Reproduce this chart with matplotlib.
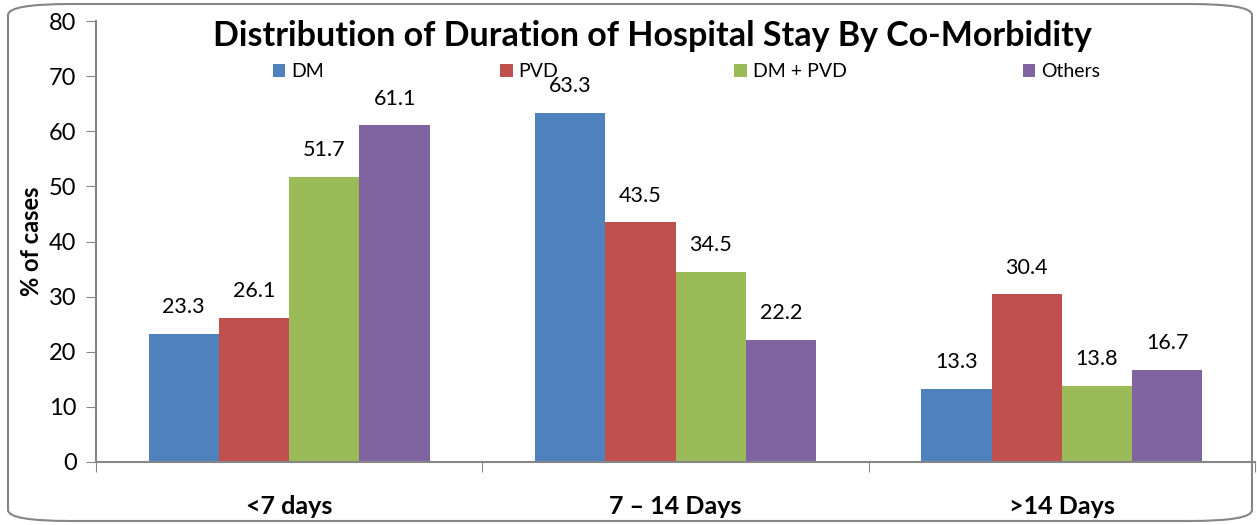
import numpy as np
import matplotlib.pyplot as plt
from matplotlib.patches import FancyBboxPatch

plt.rcParams['font.family'] = ['Lato', 'DejaVu Sans']

categories = ['<7 days', '7 – 14 Days', '>14 Days']
series = ['DM', 'PVD', 'DM + PVD', 'Others']
dm = [23.3, 63.3, 13.3]
pvd = [26.1, 43.5, 30.4]
dm_pvd = [51.7, 34.5, 13.8]
others = [61.1, 22.2, 16.7]
values = [dm, pvd, dm_pvd, others]
colours = ['#4F81BD', '#C0504D', '#9BBB59', '#8064A2']

fig = plt.figure(figsize=(12.57, 5.25), dpi=100)
ax = fig.add_axes([96/1257, 63/525, (1255-96)/1257, (462-21)/525])

x = np.arange(len(categories))
w = 0.182
for i, (name, vals) in enumerate(zip(series, values)):
    pos = x + (i - 1.5) * w
    bars = ax.bar(pos, vals, w, color=colours[i], label=name)
    for b, v in zip(bars, vals):
        ax.annotate(f'{v:.1f}', (b.get_x() + w/2, v), xytext=(0, 12),
                    textcoords='offset points', ha='center', va='bottom',
                    fontsize=15.5)

ax.set_xlim(-0.5, 2.5)
ax.set_ylim(0, 80)
ax.set_yticks(range(0, 81, 10))
ax.set_xticks([-0.5, 0.5, 1.5, 2.5], minor=False)
ax.set_xticklabels([])
ax.set_xticks(x, minor=True)
ax.set_xticklabels(categories, minor=True, fontsize=18, fontweight='bold')
ax.tick_params(axis='x', which='minor', length=0, pad=24)
ax.tick_params(axis='x', which='major', length=7, color='#868686')
ax.tick_params(axis='y', length=7, color='#868686', labelsize=17, pad=7)
for s in ['top', 'right']:
    ax.spines[s].set_visible(False)
for s in ['left', 'bottom']:
    ax.spines[s].set_color('#868686')
    ax.spines[s].set_linewidth(1.5)

ax.set_ylabel('% of cases', fontsize=17, fontweight='bold', labelpad=4)
fig.text(652/1257, 1 - 36/525, 'Distribution of Duration of Hospital Stay By Co-Morbidity',
         ha='center', va='center', fontsize=24.5, fontweight='bold')

ax.legend(loc='lower left', bbox_to_anchor=((265-96)/1159, (462-88)/441, (1108-265)/1159, 0.05),
          mode='expand', ncol=4, frameon=False, fontsize=14, handlelength=0.65,
          handleheight=0.65, handletextpad=0.3, borderaxespad=0)

border = FancyBboxPatch((8/1257, 4/525), (1252-8)/1257, (521-4)/525,
                        boxstyle='round,pad=0,rounding_size=0.05',
                        transform=fig.transFigure, fill=False,
                        edgecolor='#868686', linewidth=1.5, mutation_aspect=525/1257)
fig.patches.append(border)

fig.savefig('out.png', dpi=100)
